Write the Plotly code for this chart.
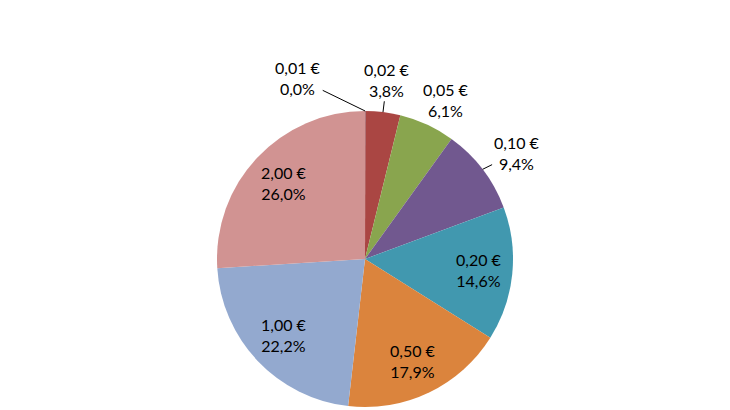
import numpy as np
import plotly.graph_objects as go

# coin denominations and their share (%)
coins = ["0,01 €", "0,02 €", "0,05 €", "0,10 €", "0,20 €", "0,50 €", "1,00 €", "2,00 €"]
shares = [0.04, 3.8, 6.1, 9.4, 14.6, 17.9, 22.2, 26.0]
colors = ["#4572A7", "#AA4643", "#89A54E", "#71588F", "#4198AF", "#DB843D", "#93A9CF", "#D19392"]

W, H = 730, 410
# page body margin of 8px shifts the figure, so compensate
cx, cy, r = 365 - 8, 259 - 8, 148

fig = go.Figure(go.Pie(
    labels=coins, values=shares, sort=False, direction="clockwise",
    marker=dict(colors=colors, line=dict(width=0)),
    textinfo="none", hoverinfo="label+percent", showlegend=False,
    domain=dict(x=[(cx - r) / W, (cx + r) / W], y=[(H - cy - r) / H, (H - cy + r) / H]),
))

vals = np.array(shares)
pct = vals / vals.sum() * 100
mid = (np.cumsum(vals) - vals / 2) / vals.sum() * 2 * np.pi  # clockwise from top

outside = [True, True, True, True, False, False, False, False]
leader = [True, True, False, True, False, False, False, False]
nudge = [(-67, 0), (0, 0), (5, 5), (8, 3), (4, 0), (0, 2), (0, 0), (0, 0)]

font = dict(family="Lato, 'Open Sans', sans-serif", size=16, color="#000000")
for i, name in enumerate(coins):
    txt = f"{name}<br>{pct[i]:.1f}%".replace(".", ",")
    s, c = np.sin(mid[i]), np.cos(mid[i])
    if outside[i]:
        tx = cx + 1.22 * r * s + nudge[i][0]
        ty = cy - 1.22 * r * c + nudge[i][1]
        px_, py_ = cx + r * s, cy - r * c
        if leader[i]:
            fig.add_annotation(x=px_ / W, y=1 - py_ / H, xref="paper", yref="paper",
                               ax=tx - px_, ay=ty - py_, text=txt, showarrow=True,
                               arrowhead=0, arrowwidth=1, arrowcolor="#000000",
                               font=font, standoff=0)
            continue
    else:
        tx = cx + 0.75 * r * s + nudge[i][0]
        ty = cy - 0.75 * r * c + nudge[i][1]
    fig.add_annotation(x=tx / W, y=1 - ty / H, xref="paper", yref="paper",
                       xanchor="center", yanchor="middle",
                       text=txt, showarrow=False, font=font)

fig.update_layout(width=W, height=H, margin=dict(l=0, r=0, t=0, b=0),
                  paper_bgcolor="white", plot_bgcolor="white")
fig.write_html("out.html")
